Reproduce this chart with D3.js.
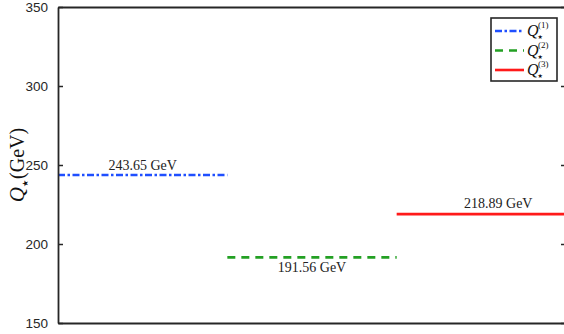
<!DOCTYPE html>
<html>
<head>
<meta charset="utf-8">
<script src="https://cdn.jsdelivr.net/npm/d3@7"></script>
<style>
  html, body { margin: 0; padding: 0; background: #fff; }
  svg { display: block; }
</style>
</head>
<body>
<svg id="chart" width="564" height="334"></svg>
<script>
// Series: one horizontal level per scale choice
const seriesNames = ["(1)", "(2)", "(3)"];
const seriesValues = [243.65, 191.56, 218.89];
const valueLabels = ["243.65 GeV", "191.56 GeV", "218.89 GeV"];
const yTicks = [150, 200, 250, 300, 350];
const yDomain = [150, 350];

const colors = ["#1f4fff", "#23a023", "#ff1a1a"];
const dashes = ["7,2.5,2.5,2.5", "8,6", null];

const svg = d3.select("#chart");
const margin = { left: 58, top: 7, right: -2, bottom: 11 };
const W = 564, H = 334;

const x = d3.scaleLinear().domain([0, 3]).range([margin.left, W - margin.right]);
const y = d3.scaleLinear().domain(yDomain).range([H - margin.bottom, margin.top]);

const axisColor = "#262626";
const starFont = "'DejaVu Sans', sans-serif";
const star = "\u2605";

// Level segments
const segs = seriesValues.map((v, i) => ({ i, v, x0: i, x1: i + 1 }));
svg.append("g").selectAll("line").data(segs).join("line")
  .attr("x1", d => x(d.x0)).attr("x2", d => x(d.x1))
  .attr("y1", d => y(d.v)).attr("y2", d => y(d.v))
  .attr("stroke", d => colors[d.i])
  .attr("stroke-width", 2.6)
  .attr("stroke-dasharray", d => dashes[d.i]);

// Value annotations
const labelPos = [
  { xc: 0.5, dy: -5 },
  { xc: 1.5, dy: 15 },
  { xc: 2.6, dy: -6 }
];
svg.append("g").selectAll("text").data(segs).join("text")
  .attr("x", d => x(labelPos[d.i].xc))
  .attr("y", d => y(d.v) + labelPos[d.i].dy)
  .attr("text-anchor", "middle")
  .attr("font-family", "'Liberation Serif', serif")
  .attr("font-size", 14)
  .attr("fill", "#222")
  .text(d => valueLabels[d.i]);

// Left axis with inward ticks
const yAxisL = d3.axisLeft(y).tickValues(yTicks).tickSizeInner(-5).tickSizeOuter(0).tickPadding(10);
const gL = svg.append("g").attr("transform", `translate(${margin.left},0)`).call(yAxisL);
gL.select(".domain").attr("stroke", axisColor).attr("stroke-width", 1.8);
gL.selectAll(".tick line").attr("stroke", axisColor).attr("stroke-width", 1.5);
gL.selectAll(".tick text")
  .attr("font-family", "'Liberation Sans', Arial, sans-serif")
  .attr("font-size", 13.5).attr("fill", "#262626");

// Right axis, ticks only
const yAxisR = d3.axisRight(y).tickValues(yTicks).tickSizeInner(-5).tickSizeOuter(0).tickFormat("");
const gR = svg.append("g").attr("transform", `translate(${W - margin.right},0)`).call(yAxisR);
gR.select(".domain").attr("stroke", axisColor).attr("stroke-width", 1.8);
gR.selectAll(".tick line").attr("stroke", axisColor).attr("stroke-width", 1.5);

// Top and bottom frame
const xAxisB = d3.axisBottom(x).tickValues([]).tickSizeOuter(0);
const gB = svg.append("g").attr("transform", `translate(0,${y(yDomain[0])})`).call(xAxisB);
gB.select(".domain").attr("stroke", axisColor).attr("stroke-width", 1.8);
const xAxisT = d3.axisTop(x).tickValues([]).tickSizeOuter(0);
const gT = svg.append("g").attr("transform", `translate(0,${y(yDomain[1])})`).call(xAxisT);
gT.select(".domain").attr("stroke", axisColor).attr("stroke-width", 1.8);

// Y axis title
const yt = svg.append("text")
  .attr("transform", `translate(24,${(y(yDomain[0]) + y(yDomain[1])) / 2}) rotate(-90)`)
  .attr("text-anchor", "middle")
  .attr("font-family", "'Liberation Serif', serif")
  .attr("fill", "#111");
yt.append("tspan").attr("font-style", "italic").attr("font-size", 21).text("Q");
yt.append("tspan").attr("font-family", starFont).attr("font-size", 8).attr("dy", 4).text(star);
yt.append("tspan").attr("font-size", 20).attr("dy", -4).attr("dx", 1).text("(GeV)");

// Legend
const lg = svg.append("g").attr("transform", "translate(491,18)");
lg.append("rect").attr("width", 66).attr("height", 63)
  .attr("fill", "#fff").attr("stroke", "#262626").attr("stroke-width", 1.6);
const rows = lg.selectAll("g.row").data(seriesNames).join("g")
  .attr("class", "row")
  .attr("transform", (d, i) => `translate(0,${13 + i * 19.5})`);
rows.append("line")
  .attr("x1", 4).attr("x2", 33).attr("y1", 0).attr("y2", 0)
  .attr("stroke", (d, i) => colors[i]).attr("stroke-width", 2.6)
  .attr("stroke-dasharray", (d, i) => dashes[i]);
const lt = rows.append("text").attr("x", 36).attr("y", 5)
  .attr("font-family", "'Liberation Serif', serif").attr("fill", "#111");
lt.append("tspan").attr("font-style", "italic").attr("font-size", 16).text("Q");
lt.append("tspan").attr("font-family", starFont).attr("font-size", 6).attr("dy", 3).attr("dx", -1).text(star);
lt.append("tspan").attr("font-size", 9).attr("dy", -11).attr("dx", -5).text(d => d);
</script>
</body>
</html>
